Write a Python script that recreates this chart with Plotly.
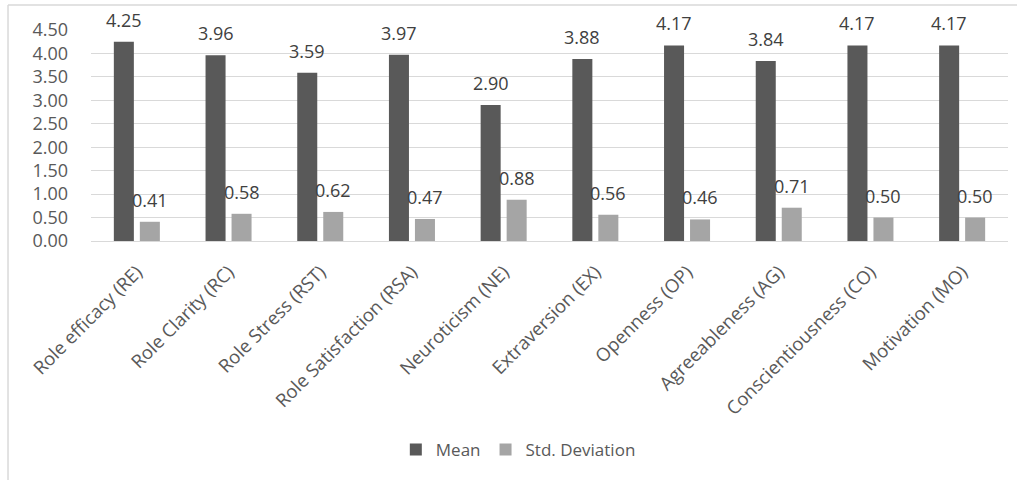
import plotly.graph_objects as go

categories = ["Role efficacy (RE)", "Role Clarity (RC)", "Role Stress (RST)",
              "Role Satisfaction (RSA)", "Neuroticism (NE)", "Extraversion (EX)",
              "Openness (OP)", "Agreeableness (AG)", "Conscientiousness (CO)",
              "Motivation (MO)"]
mean_vals = [4.25, 3.96, 3.59, 3.97, 2.90, 3.88, 4.17, 3.84, 4.17, 4.17]
std_vals = [0.41, 0.58, 0.62, 0.47, 0.88, 0.56, 0.46, 0.71, 0.50, 0.50]
y_ticks = [0, 0.5, 1.0, 1.5, 2.0, 2.5, 3.0, 3.5, 4.0, 4.5]

FONT = "Open Sans"
fig = go.Figure()
fig.add_trace(go.Bar(name="Mean", x=categories, y=mean_vals,
                     marker=dict(color="#595959", line=dict(width=0)),
                     offsetgroup="m", cliponaxis=False))
fig.add_trace(go.Bar(name="Std. Deviation", x=categories, y=std_vals,
                     marker=dict(color="#a5a5a5", line=dict(width=0)),
                     offsetgroup="s", cliponaxis=False))

# value labels, placed above each bar using the axis scale
n = len(categories)
slot = 0.567 / 2
for i, (c, m, s) in enumerate(zip(categories, mean_vals, std_vals)):
    fig.add_annotation(x=i - slot / 2, y=m, xref="x", yref="y", text=f"{m:.2f}",
                       showarrow=False, yanchor="middle", yshift=22,
                       font=dict(size=18, color="#404040", family=FONT))
    fig.add_annotation(x=i + slot / 2, y=s, xref="x", yref="y", text=f"{s:.2f}",
                       showarrow=False, yanchor="middle", yshift=22,
                       font=dict(size=18, color="#404040", family=FONT))

fig.update_layout(
    width=1017, height=480,
    margin=dict(l=91, r=9, t=30, b=239, autoexpand=False),
    paper_bgcolor="white", plot_bgcolor="white",
    barmode="group", bargap=0.433, bargroupgap=0.23,
    font=dict(family=FONT, size=16, color="#595959"),
    legend=dict(orientation="h", x=0.466, xanchor="center", y=-0.99, yanchor="middle",
                font=dict(size=17, color="#595959", family=FONT),
                itemwidth=30, tracegroupgap=0),
    showlegend=True,
)
fig.update_yaxes(range=[0, 4.5], tickvals=y_ticks, ticktext=[f"{v:.2f}" for v in y_ticks],
                 showgrid=True, gridcolor="#d9d9d9", gridwidth=1,
                 zeroline=True, zerolinecolor="#d9d9d9", zerolinewidth=1,
                 tickfont=dict(size=18, color="#595959", family=FONT),
                 ticklabelstandoff=22, showline=False, automargin=False)
fig.update_xaxes(tickangle=-45, tickfont=dict(size=18.5, color="#595959", family=FONT),
                 showline=True, linecolor="#d9d9d9", linewidth=1, ticks="",
                 ticklabelstandoff=12,
                 automargin=False, range=[-0.5, n - 0.5])

# outer chart frame (left and top edges visible)
fig.add_shape(type="line", xref="paper", yref="paper", x0=-0.0905, x1=-0.0905,
              y0=-1.2, y1=1.1185, line=dict(color="#d9d9d9", width=1.5))
fig.add_shape(type="line", xref="paper", yref="paper", x0=-0.0905, x1=1.02,
              y0=1.1185, y1=1.1185, line=dict(color="#d9d9d9", width=1.5))

fig.write_html("out.html", config={"displayModeBar": False},
               post_script="document.body.style.margin='0';")
